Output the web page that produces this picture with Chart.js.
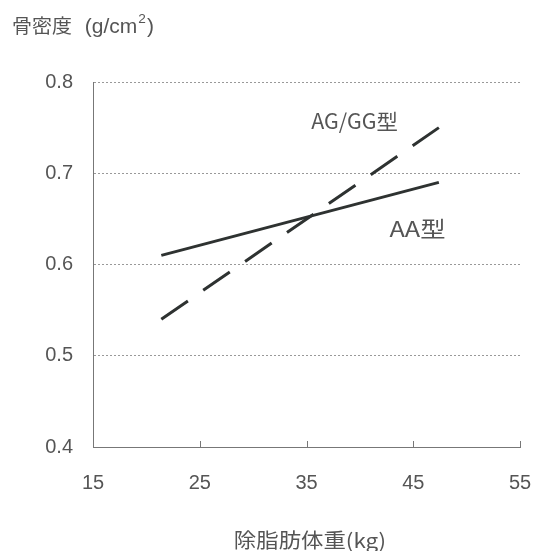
<!DOCTYPE html>
<html>
<head>
<meta charset="utf-8">
<script src="https://cdn.jsdelivr.net/npm/chart.js@4"></script>
<style>
  html, body { margin: 0; padding: 0; background: #fff; }
  #wrap { width: 534px; height: 551px; }
</style>
</head>
<body>
<div id="wrap"><canvas id="bmdChart" width="534" height="551"></canvas></div>
<script>
// Lean body mass (kg) at both ends of the regression lines
const leanMass = [21.4, 47.4];
// Bone density (g/cm2) by genotype
const aaDensity = [0.61, 0.69];
const agggDensity = [0.54, 0.75];
const xTicks = [15, 25, 35, 45, 55];
const yTicks = [0.4, 0.5, 0.6, 0.7, 0.8];

const textColor = '#555';
const lineColor = '#2e3231';
const latinFamily = 'Liberation Sans, Arial, sans-serif';
const cjkFamily = '"Noto Sans CJK JP", "Noto Sans CJK SC", sans-serif';
const tickFont = { family: latinFamily, size: 20 };

const toPoints = ys => leanMass.map((x, i) => ({ x: x, y: ys[i] }));

// text drawn slightly widened, like the printed labels
function wideText(c, text, x, y, font, sx, align) {
    c.save();
    c.font = font;
    c.textAlign = align || 'center';
    c.textBaseline = 'middle';
    c.translate(x, y);
    c.scale(sx, 1);
    c.fillText(text, 0, 0);
    const w = c.measureText(text).width * sx;
    c.restore();
    return w;
}

// Axis titles, line labels and the small inward ticks on the x axis
const extras = {
    id: 'extras',
    afterDraw(chart) {
        const c = chart.ctx;
        const xs = chart.scales.x, ys = chart.scales.y;
        c.save();
        c.fillStyle = textColor;

        // y axis title with superscript
        let x = 12;
        x += wideText(c, '骨密度', x, 26, '19px ' + cjkFamily, 1.05, 'left');
        x += 13;
        x += wideText(c, '(g/cm', x, 27, '20px ' + latinFamily, 1.05, 'left');
        x += wideText(c, '2', x + 1, 19, '13px ' + latinFamily, 1.05, 'left') + 2;
        wideText(c, ')', x, 27, '20px ' + latinFamily, 1.05, 'left');

        // x axis title
        wideText(c, '除脂肪体重(kg)', 310, 540, '20px ' + cjkFamily, 1.12);

        // series labels
        wideText(c, 'AG/GG型', xs.getPixelForValue(39.5), ys.getPixelForValue(0.757), '21px ' + cjkFamily, 1.02);
        wideText(c, 'AA型', xs.getPixelForValue(45.4), ys.getPixelForValue(0.639), '22px ' + cjkFamily, 1.15);

        // inward tick marks on the x axis
        c.strokeStyle = '#777';
        c.lineWidth = 1;
        c.beginPath();
        xTicks.slice(1).forEach(v => {
            const px = Math.round(xs.getPixelForValue(v)) + 0.5;
            c.moveTo(px, chart.chartArea.bottom);
            c.lineTo(px, chart.chartArea.bottom - 6);
        });
        c.stroke();
        c.restore();
    }
};

const ctx = document.getElementById('bmdChart').getContext('2d');
new Chart(ctx, {
    type: 'scatter',
    data: {
        datasets: [
            {
                label: 'AA型',
                data: toPoints(aaDensity),
                showLine: true,
                borderColor: lineColor,
                borderWidth: 3,
                pointRadius: 0
            },
            {
                label: 'AG/GG型',
                data: toPoints(agggDensity),
                showLine: true,
                borderColor: lineColor,
                borderWidth: 3,
                borderDash: [32.3, 18.6],
                pointRadius: 0
            }
        ]
    },
    options: {
        responsive: false,
        animation: false,
        layout: { padding: { left: 0, right: 14, top: 82, bottom: 0 } },
        plugins: {
            legend: { display: false },
            tooltip: { enabled: false }
        },
        scales: {
            x: {
                type: 'linear',
                min: 15,
                max: 55,
                afterBuildTicks: s => { s.ticks = xTicks.map(v => ({ value: v })); },
                afterFit: s => { s.height = 104; s.paddingLeft = 0; s.paddingRight = 0; },
                grid: { display: false },
                border: { color: '#777', width: 1 },
                ticks: { color: textColor, font: tickFont, padding: 16, maxRotation: 0 }
            },
            y: {
                min: 0.4,
                max: 0.8,
                afterBuildTicks: s => { s.ticks = yTicks.map(v => ({ value: v })); },
                afterFit: s => { s.width = 93; s.paddingTop = 0; s.paddingBottom = 0; },
                grid: {
                    drawTicks: false,
                    color: c => (c.tick && c.tick.value === 0.4) ? 'rgba(0,0,0,0)' : '#999',
                    lineWidth: 1
                },
                border: { color: '#777', width: 1, dash: [2, 2] },
                ticks: {
                    color: textColor,
                    font: tickFont,
                    padding: 20,
                    callback: v => v.toFixed(1)
                }
            }
        }
    },
    plugins: [extras]
});
</script>
</body>
</html>
